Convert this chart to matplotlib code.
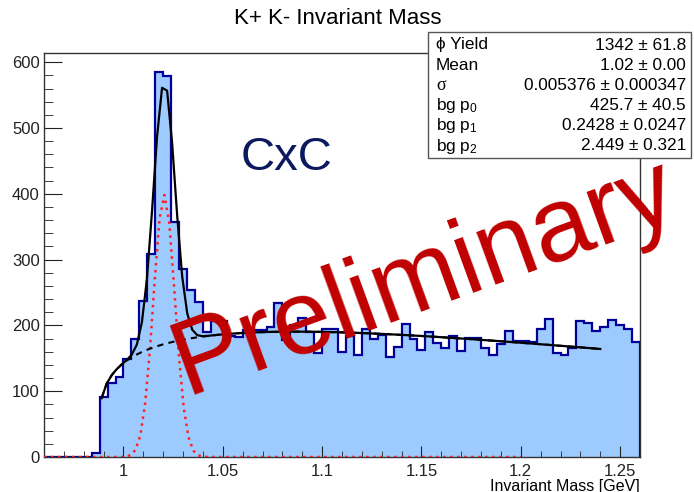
import numpy as np
import matplotlib
matplotlib.use("Agg")
import matplotlib.pyplot as plt
from matplotlib.patches import Rectangle
from matplotlib.ticker import MultipleLocator

plt.rcParams['font.family'] = ['Liberation Sans', 'DejaVu Sans']
plt.rcParams['mathtext.fontset'] = 'custom'
plt.rcParams['mathtext.rm'] = 'Liberation Sans'
plt.rcParams['mathtext.it'] = 'Liberation Sans'

# histogram: 75 bins of 4 MeV from 0.96 to 1.26 GeV
bin_lo, bin_hi, n_bins = 0.96, 1.26, 75
counts = [0, 0, 0, 0, 0, 0, 6, 91, 112, 122,
          149, 179, 237, 308, 585, 579, 357, 286, 254, 236,
          190, 207, 207, 184, 182, 193, 193, 193, 197, 234,
          178, 200, 211, 190, 158, 195, 195, 159, 184, 155,
          194, 179, 185, 152, 167, 202, 179, 163, 190, 173,
          166, 184, 161, 181, 181, 166, 155, 172, 191, 176,
          176, 175, 194, 210, 158, 155, 166, 207, 204, 191,
          198, 208, 201, 194, 175]

# fit parameters (stats box)
phi_yield = 1342
phi_mean = 1.0205
phi_sigma = 0.005376
bg_p0, bg_p1, bg_p2 = 425.7, 0.2428, 2.449
kk_threshold = 0.98735
fit_range = (0.989, 1.24)
signal_range = (0.96, 1.20)

stats_rows = [("\u03d5 Yield", "1342 \u00b1 61.8"),
              ("Mean", "1.02 \u00b1 0.00"),
              ("\u03c3", "0.005376 \u00b1 0.000347"),
              ("bg p$_0$", "425.7 \u00b1 40.5"),
              ("bg p$_1$", "0.2428 \u00b1 0.0247"),
              ("bg p$_2$", "2.449 \u00b1 0.321")]

x_ticks = [1.0, 1.05, 1.1, 1.15, 1.2, 1.25]
x_tick_labels = ["1", "1.05", "1.1", "1.15", "1.2", "1.25"]
y_ticks = [0, 100, 200, 300, 400, 500, 600]

W, H = 694, 492


def fpos(x, y):
    # pixel position -> figure fraction
    return x / W, 1 - y / H


def gauss(x):
    bw = (bin_hi - bin_lo) / n_bins
    amp = phi_yield * bw / (phi_sigma * np.sqrt(2 * np.pi))
    return amp * np.exp(-0.5 * ((x - phi_mean) / phi_sigma) ** 2)


def bg(x):
    dx = np.clip(x - kk_threshold, 0, None)
    return bg_p0 * dx ** bg_p1 * np.exp(-bg_p2 * dx)


fig = plt.figure(figsize=(W / 100, H / 100), dpi=100)
ax = fig.add_axes([44 / W, 1 - 457 / H, (640 - 44) / W, (457 - 53) / H])

edges = np.linspace(bin_lo, bin_hi, n_bins + 1)
ax.stairs(counts, edges, fill=True, color='#9ecbff', zorder=1)
ax.stairs(counts, edges, color='#000099', linewidth=1.6, baseline=0, zorder=2)

xs = np.linspace(signal_range[0], signal_range[1], 100)
ax.plot(xs, gauss(xs), color='#ff2020', linestyle=(0, (1.0, 1.8)), linewidth=1.8, zorder=3)

xf = np.linspace(fit_range[0], fit_range[1], 100)
ax.plot(xf, bg(xf), color='k', linestyle=(0, (3, 2.5)), linewidth=1.5, zorder=3)
ax.plot(xf, gauss(xf) + bg(xf), color='k', linewidth=1.6, zorder=4)

ax.set_xlim(bin_lo, bin_hi)
ax.set_ylim(0, 614)
ax.set_xticks(x_ticks)
ax.set_xticklabels(x_tick_labels)
ax.set_yticks(y_ticks)
ax.xaxis.set_minor_locator(MultipleLocator(0.01))
ax.yaxis.set_minor_locator(MultipleLocator(20))
ax.tick_params(which='both', direction='in', top=False, right=False, labelsize=12, colors='#222222')
ax.tick_params(axis='y', which='major', length=13, pad=3)
ax.tick_params(axis='y', which='minor', length=6.5)
ax.tick_params(axis='x', which='major', length=8, pad=5)
ax.tick_params(axis='x', which='minor', length=4.3)
for s in ax.spines.values():
    s.set_color('#333333')
    s.set_linewidth(1.0)

fig.text(*fpos(338, 19), "K+ K- Invariant Mass", ha='center', va='center', fontsize=16)
fig.text(*fpos(640, 486), "Invariant Mass [GeV]", ha='right', va='center', fontsize=11.5)

# stats box
x0, y0 = fpos(428, 158)
x1, y1 = fpos(691, 32)
fig.add_artist(Rectangle((x0, y0), x1 - x0, y1 - y0, transform=fig.transFigure,
                         facecolor='white', edgecolor='#555555', linewidth=1.0, zorder=5))
for i, (lab, val) in enumerate(stats_rows):
    yy = 45 + i * 20.2
    if lab == "\u03c3":
        fig.text(*fpos(436, yy), lab, ha='left', va='center', fontsize=13,
                 family=['Liberation Serif'], zorder=6)
    else:
        fig.text(*fpos(436, yy), lab, ha='left', va='center', fontsize=12.4, zorder=6)
    fig.text(*fpos(686, yy), val, ha='right', va='center', fontsize=12.4, zorder=6)

fig.text(*fpos(287, 158), "CxC", ha='center', va='center', fontsize=34, color='#0b1a5e', zorder=7)
fig.text(*fpos(434, 304), "Preliminary", ha='center', va='baseline', rotation=20,
         rotation_mode='anchor', fontsize=76, color='#c00000', zorder=8)

fig.savefig("out.png", dpi=100)
